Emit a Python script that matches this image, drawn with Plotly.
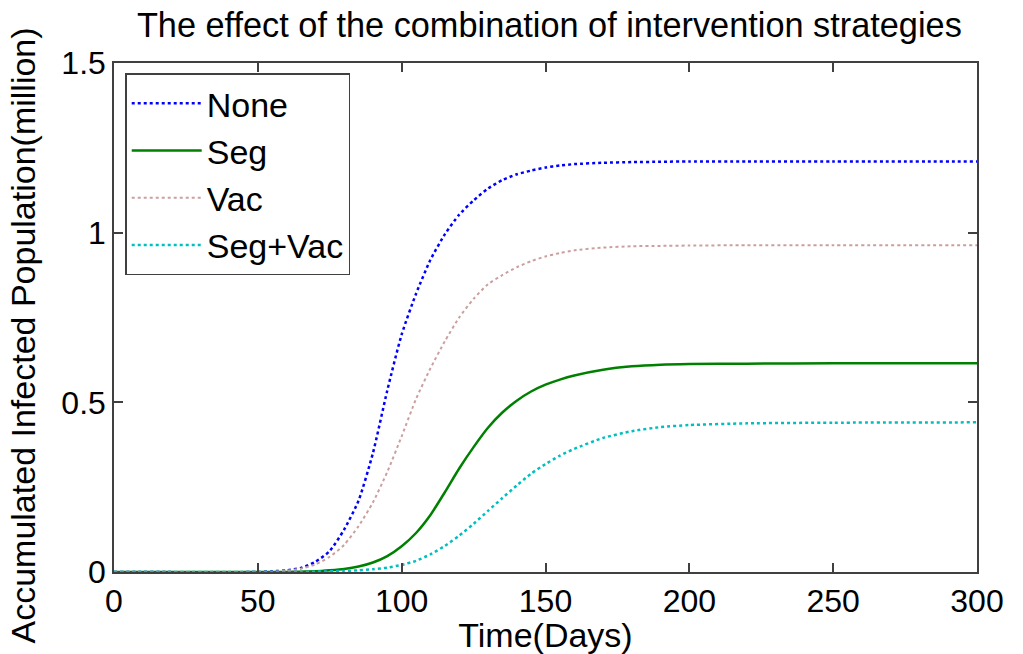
import plotly.graph_objects as go

# Simulation output sampled at these days (accumulated infections, millions)
days = [0, 50, 55, 60, 65, 70, 75, 80, 85, 90, 95, 100, 105, 110, 115, 120,
        125, 130, 135, 140, 145, 150, 155, 160, 170, 180, 190, 200, 220, 250, 300]

none_vals = [0.0, 0.0, 0.002, 0.005, 0.012, 0.030, 0.062, 0.125, 0.210, 0.350,
             0.535, 0.700, 0.820, 0.920, 0.995, 1.053, 1.095, 1.130, 1.155,
             1.172, 1.183, 1.192, 1.198, 1.202, 1.206, 1.208, 1.209, 1.210,
             1.210, 1.210, 1.210]

seg_vals = [0.0, 0.0, 0.0, 0.0, 0.001, 0.002, 0.005, 0.009, 0.016, 0.028,
            0.047, 0.076, 0.115, 0.168, 0.235, 0.305, 0.368, 0.425, 0.470,
            0.505, 0.532, 0.552, 0.567, 0.579, 0.596, 0.606, 0.611, 0.613,
            0.614, 0.615, 0.615]

vac_vals = [0.0, 0.0, 0.001, 0.004, 0.010, 0.022, 0.045, 0.080, 0.135, 0.205,
            0.295, 0.400, 0.510, 0.600, 0.680, 0.750, 0.805, 0.848, 0.875,
            0.898, 0.916, 0.930, 0.940, 0.948, 0.956, 0.960, 0.961, 0.962,
            0.963, 0.963, 0.963]

segvac_vals = [0.0, 0.0, 0.0, 0.0, 0.0, 0.001, 0.002, 0.003, 0.005, 0.008,
               0.013, 0.021, 0.033, 0.052, 0.077, 0.107, 0.142, 0.180, 0.218,
               0.255, 0.290, 0.318, 0.343, 0.363, 0.395, 0.415, 0.427, 0.433,
               0.438, 0.440, 0.441]

x_ticks = [0, 50, 100, 150, 200, 250, 300]
y_ticks = [0, 0.5, 1, 1.5]
y_tick_text = ["0", "0.5", "1", "1.5"]

series = [
    ("None", none_vals, dict(color="#0000ff", width=2.5, dash="dot")),
    ("Seg", seg_vals, dict(color="#008000", width=2.5, dash="solid")),
    ("Vac", vac_vals, dict(color="#cc9f9f", width=2, dash="dot")),
    ("Seg+Vac", segvac_vals, dict(color="#00bfbf", width=2.5, dash="dot")),
]

FONT = "Liberation Sans, Arial, sans-serif"

fig = go.Figure()
for name, vals, line in series:
    fig.add_trace(go.Scatter(
        x=days, y=vals, name=name, mode="lines",
        line=dict(shape="spline", smoothing=0.6, **line),
    ))

axis_common = dict(
    showline=True, linecolor="#404040", linewidth=1.5, mirror="ticks",
    ticks="inside", ticklen=9, tickwidth=1.5, tickcolor="#404040",
    showgrid=False, zeroline=False, automargin=False,
    tickfont=dict(family=FONT, size=32, color="black"),
)

fig.update_xaxes(
    range=[0, 300], tickvals=x_ticks,
    title=dict(text="Time(Days)", font=dict(family=FONT, size=34, color="black"),
               standoff=2),
    **axis_common,
)
fig.update_yaxes(range=[0, 1.5], tickvals=y_ticks, ticktext=y_tick_text,
                 **axis_common)

# Y-axis caption, sitting slightly below the vertical centre of the axes box
fig.add_annotation(
    text="Accumulated Infected Population(million)",
    xref="paper", yref="paper", x=0, y=0.5,
    xanchor="center", yanchor="middle", xshift=-92, yshift=-18,
    textangle=-90, showarrow=False,
    font=dict(family=FONT, size=34, color="black"),
)

fig.update_layout(
    width=1023, height=654,
    margin=dict(l=114, r=46, t=63, b=82),
    paper_bgcolor="white", plot_bgcolor="white",
    title=dict(text="The effect of the combination of intervention strategies",
               font=dict(family=FONT, size=34.3, color="black"),
               x=0.537, xanchor="center", y=0.962, yanchor="middle"),
    legend=dict(
        x=0.013, y=0.98, xanchor="left", yanchor="top",
        bgcolor="white", bordercolor="#404040", borderwidth=1.5,
        font=dict(family=FONT, size=34, color="black"),
        tracegroupgap=0, itemwidth=70,
    ),
    showlegend=True,
)

fig.write_html("out.html")
